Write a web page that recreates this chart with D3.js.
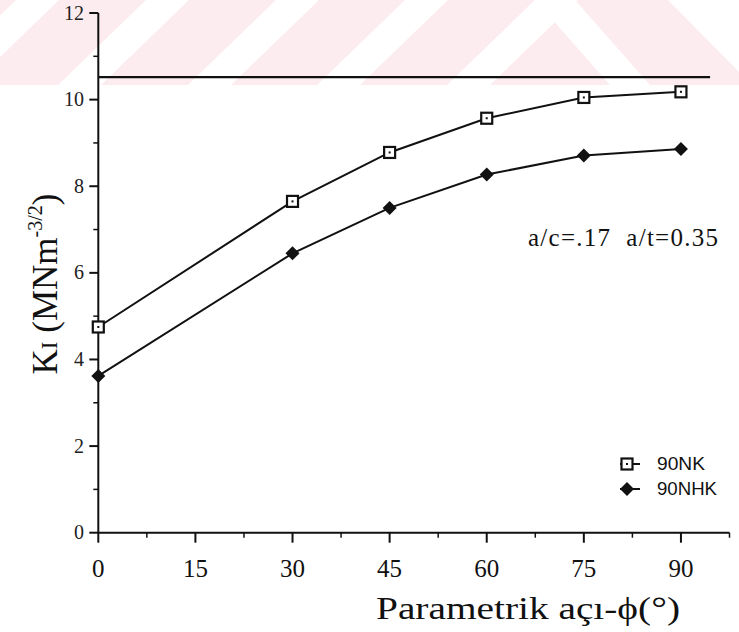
<!DOCTYPE html>
<html>
<head>
<meta charset="utf-8">
<script src="https://cdn.jsdelivr.net/npm/d3@7"></script>
<style>
  html, body { margin: 0; padding: 0; background: #fff; }
  svg { display: block; }
</style>
</head>
<body>
<script>
// Stress intensity factor K_I along the crack front, two specimen series
const angles = [0, 30, 45, 60, 75, 90];
const seriesNK = [4.75, 7.65, 8.78, 9.57, 10.05, 10.18];
const seriesNHK = [3.62, 6.45, 7.5, 8.27, 8.71, 8.86];
const seriesNames = ["90NK", "90NHK"];
const refValue = 10.52;
const refSpan = [0, 94.5];
const xTickLabels = [0, 15, 30, 45, 60, 75, 90];
const yTickLabels = [0, 2, 4, 6, 8, 10, 12];
const note = "a/c=.17  a/t=0.35";

const W = 739, H = 632;
const svg = d3.select("body").append("svg").attr("width", W).attr("height", H);

// faint diagonal banner across the top
const bandH = 85, slant = 88, whiteW = 43;
svg.append("rect").attr("x", 0).attr("y", 0).attr("width", W).attr("height", bandH).attr("fill", "#fdecef");
const wg = svg.append("g").attr("fill", "#fff");
[-72, 58, 188, 317, 447].forEach(x0 => {
  wg.append("path").attr("d",
    `M${x0},${bandH} L${x0 + whiteW},${bandH} L${x0 + whiteW + slant},0 L${x0 + slant},0 Z`);
});
wg.append("path").attr("d", `M535,0 L575,0 L650,${bandH} L610,${bandH} Z`);
wg.append("path").attr("d", `M668,0 L${W},0 L${W},72 Z`);

const x = d3.scaleLinear().domain([0, 97.5]).range([98.3, 729.5]);
const y = d3.scaleLinear().domain([0, 12]).range([532.7, 13]);

const serif = "'Liberation Serif', 'Times New Roman', serif";
const ink = "#111";

// axes
const axes = svg.append("g").attr("stroke", ink).attr("stroke-width", 2).attr("fill", "none");
axes.append("line").attr("x1", x(0)).attr("x2", x(0)).attr("y1", y(12)).attr("y2", y(0));
axes.append("line").attr("x1", x(0)).attr("x2", x(97.5)).attr("y1", y(0)).attr("y2", y(0));

// y ticks: major every 2, minor every 1
d3.range(0, 13, 1).forEach(v => {
  const major = v % 2 === 0;
  axes.append("line").attr("x1", x(0) - (major ? 9 : 5)).attr("x2", x(0))
    .attr("y1", y(v)).attr("y2", y(v)).attr("stroke-width", major ? 2 : 1.5);
});
// x ticks: major every 15, minor every 7.5
d3.range(0, 97.6, 7.5).forEach(v => {
  const major = v % 15 === 0;
  axes.append("line").attr("x1", x(v)).attr("x2", x(v))
    .attr("y1", y(0)).attr("y2", y(0) + (major ? 10 : 5)).attr("stroke-width", major ? 2 : 1.5);
});

svg.append("g").selectAll("text").data(yTickLabels).join("text")
  .attr("x", 84).attr("y", d => y(d)).attr("dy", "0.33em")
  .attr("text-anchor", "end").attr("font-family", serif).attr("font-size", 20)
  .attr("fill", "#222").text(d => d);

svg.append("g").selectAll("text").data(xTickLabels).join("text")
  .attr("x", d => x(d)).attr("y", 577)
  .attr("text-anchor", "middle").attr("font-family", serif).attr("font-size", 25)
  .attr("fill", ink).text(d => d);

// axis titles
svg.append("text").attr("x", 376).attr("y", 619)
  .attr("font-family", serif).attr("font-size", 32).attr("fill", ink)
  .attr("textLength", 304).attr("lengthAdjust", "spacingAndGlyphs")
  .text("Parametrik açı-ϕ(°)");

const yt = svg.append("text").attr("transform", "translate(57,284) rotate(-90)")
  .attr("text-anchor", "middle").attr("font-family", serif).attr("font-size", 35).attr("fill", ink);
yt.append("tspan").text("K");
yt.append("tspan").attr("font-size", 23).text("I");
yt.append("tspan").text(" (MNm");
yt.append("tspan").attr("font-size", 20).attr("dy", -15).text("-3/2");
yt.append("tspan").attr("dy", 15).text(")");

// reference level
svg.append("line").attr("x1", x(refSpan[0])).attr("x2", x(refSpan[1]))
  .attr("y1", y(refValue)).attr("y2", y(refValue)).attr("stroke", ink).attr("stroke-width", 2.2);

// series lines
const line = d3.line().x((d, i) => x(angles[i])).y(d => y(d));
[seriesNK, seriesNHK].forEach(s => {
  svg.append("path").datum(s).attr("d", line).attr("fill", "none")
    .attr("stroke", ink).attr("stroke-width", 2);
});

function square(g, cx, cy) {
  g.append("rect").attr("x", cx - 5.5).attr("y", cy - 5.5).attr("width", 11).attr("height", 11)
    .attr("fill", "#fff").attr("stroke", ink).attr("stroke-width", 2.2);
  g.append("rect").attr("x", cx - 1).attr("y", cy - 1).attr("width", 2).attr("height", 2).attr("fill", ink);
}
function diamond(g, cx, cy) {
  g.append("path").attr("d", `M${cx},${cy - 7} L${cx + 7},${cy} L${cx},${cy + 7} L${cx - 7},${cy} Z`)
    .attr("fill", ink);
}
const mk = svg.append("g");
seriesNK.forEach((v, i) => square(mk, x(angles[i]), y(v)));
seriesNHK.forEach((v, i) => diamond(mk, x(angles[i]), y(v)));

// annotation
svg.append("text").attr("x", 528).attr("y", 246).attr("font-family", serif)
  .attr("font-size", 25).attr("fill", ink).style("white-space", "pre")
  .attr("textLength", 190).attr("lengthAdjust", "spacing").text(note);

// legend
const leg = svg.append("g");
[[464, square, 48], [489, diamond, 60]].forEach(([ly, fn, tw], i) => {
  leg.append("line").attr("x1", 620).attr("x2", 640).attr("y1", ly).attr("y2", ly)
    .attr("stroke", ink).attr("stroke-width", 2);
  fn(leg, 627, ly);
  leg.append("text").attr("x", 657).attr("y", ly).attr("dy", "0.36em")
    .attr("font-family", "'Liberation Sans', Arial, sans-serif").attr("font-size", 18)
    .attr("textLength", tw).attr("lengthAdjust", "spacingAndGlyphs")
    .attr("fill", ink).text(seriesNames[i]);
});
</script>
</body>
</html>
